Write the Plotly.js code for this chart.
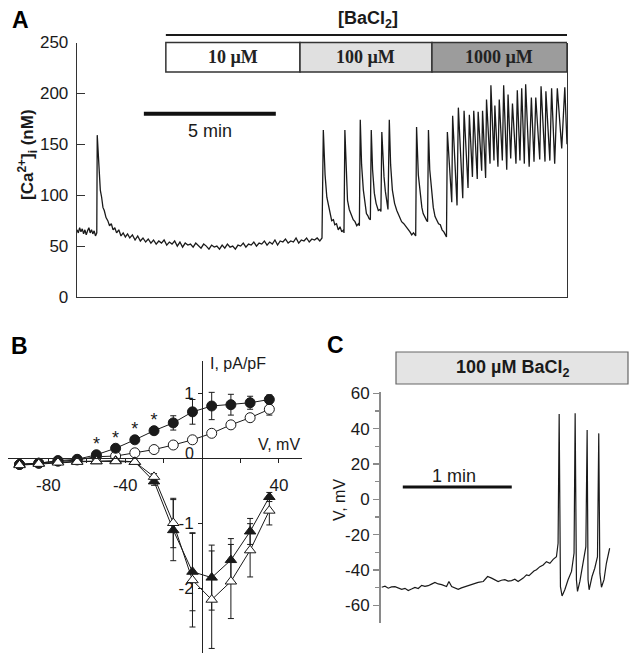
<!DOCTYPE html>
<html>
<head>
<meta charset="utf-8">
<script src="https://cdn.plot.ly/plotly-3.0.1.min.js"></script>
<style>body{margin:0;padding:0;background:#fff}#chart{width:636px;height:658px}</style>
</head>
<body>
<div id="chart"></div>
<script>
// ---------- Panel A: [Ca2+]i trace (time in s, value in nM) ----------
const aTime = [0,3,6,9,12,15,18,21,24,27,30,33,36,39,42,45,
  46,48,50,53,56,59,62,66,70,74,78,82,86,90,95,100,105,110,115,120,126,132,138,144,150,156,162,
  168,174,180,186,192,198,204,210,216,222,228,234,240,246,252,258,264,270,276,282,288,294,300,306,312,318,324,330,336,342,348,354,360,366,372,378,384,390,396,
  402,408,414,420,426,432,438,444,450,456,462,468,474,480,486,492,498,504,510,516,522,528,534,540,546,552,557,
  560,564,568,572,575,579,583,586,590,594,598,602,606,607,
  609,612,615,619,624,628,632,636,640,642,
  644,647,651,654,658,661,664,667,
  669,672,676,680,685,689,691,
  693,696,698,701,704,707,
  710,713,717,722,727,732,738,743,749,753,757,761,765,770,
  772,776,780,784,787,791,795,797,
  799,802,806,810,814,818,822,826,830,834,836,840,
  842,852,854,864,867,877,880,889,892,899,902,910,912,920,922,929,931,939,941,948,950,957,960,967,970,977,980,986,990,998,
  1001,1007,1011,1017,1020,1028,1033,1039,1043,1052,1055,1064,1066,1075,1079,1086,1092,1102,1109,1114];
const aCa = [66,63,68,64,67,62,66,61,65,68,63,66,62,65,60,63,
  159,140,121,105,98,88,85,78,75,70,72,66,68,63,66,60,63,59,62,58,61,56,60,55,58,54,57,
  53,56,52,55,53,56,51,54,52,55,50,54,49,53,51,52,49,53,50,48,52,50,47,51,49,50,47,51,48,52,49,50,47,51,50,53,49,52,51,
  54,50,53,52,55,51,54,52,56,51,55,54,57,53,55,54,58,53,56,55,58,54,57,56,58,55,58,
  164,120,98,90,85,75,76,71,72,66,69,64,66,63,
  164,118,95,86,80,76,74,70,72,70,
  174,130,105,92,82,80,77,76,
  164,125,102,92,85,86,84,
  162,130,118,104,95,86,
  174,130,105,92,85,80,74,72,69,66,64,61,63,60,
  167,120,102,88,82,78,75,74,
  164,125,102,88,79,76,72,71,66,64,62,59,
  162,93,178,90,186,97,183,107,179,118,183,116,182,124,183,117,194,131,208,134,188,128,194,134,208,125,199,136,190,131,
  203,134,205,131,209,128,196,133,196,135,207,133,202,134,205,131,205,146,206,150];
const aTickVals = [0,50,100,150,200,250];
const aBars = [
  {label:'10 \u00b5M',   start:202, end:507,  fill:'#ffffff'},
  {label:'100 \u00b5M',  start:507, end:807,  fill:'#e0e0e0'},
  {label:'1000 \u00b5M', start:807, end:1114, fill:'#9c9c9c'}
];
const aScaleBar = {start:152, end:452, level:180, label:'5 min'};

// ---------- Panel B: I-V relationship ----------
const bV = [-95,-85,-75,-65,-55,-45,-35,-25,-15,-5,5,15,25,35];
const bFilledCircle    = [-0.1,-0.08,-0.04,-0.02,0.05,0.15,0.28,0.42,0.54,0.71,0.80,0.82,0.85,0.90];
const bFilledCircleErr = [null,null,null,null,null,null,null,null,0.11,0.19,0.21,0.16,0.10,0.07];
const bOpenCircle      = [-0.1,-0.08,-0.05,-0.03,0.02,0.03,0.08,0.13,0.20,0.28,0.38,0.51,0.62,0.75];
const bOpenCircleErr   = [null,null,null,null,null,null,null,null,null,null,null,null,0.04,0.09];
const bFilledTri       = [-0.1,-0.08,-0.06,-0.05,-0.05,-0.04,-0.06,-0.36,-1.11,-1.75,-1.84,-1.57,-1.13,-0.60];
const bFilledTriErr    = [null,null,null,null,null,null,null,0.06,0.47,0.60,0.50,0.33,0.20,0.07];
const bOpenTri         = [-0.11,-0.09,-0.07,-0.06,-0.05,-0.05,-0.06,-0.29,-1.00,-1.88,-2.18,-1.90,-1.42,-0.81];
const bOpenTriErr      = [null,null,null,null,null,null,null,0.05,0.38,0.72,0.75,0.57,0.41,0.22];
const bStarV = [-55,-45,-35,-25];
const bXTickVals = [-80,-40,40];
const bXTickText = ['-80','-40','40'];
const bXMinorTicks = [-60,-20,20];
const bYTickVals = [-2,-1,1];
const bYTickText = ['-2','-1','1'];

// ---------- Panel C: membrane potential (time in s, V in mV) ----------
const cTime = [0.4,2.2,4.0,5.8,7.7,9.5,11.4,13.2,15.0,16.8,18.7,20.5,22.4,24.2,26.0,27.8,29.7,31.5,33.4,36.1,37.4,38.9,40.7,42.5,44.3,46.2,48.0,49.9,51.7,53.5,56.3,58.7,60.9,
  62.7,64.5,66.3,68.2,70.0,71.9,73.7,75.5,78.3,80.1,81.5,82.9,84.2,85.6,87.5,89.3,91.1,93.0,94.8,96.6,97.5,98.1,98.8,99.7,101.2,103.0,
  104.9,106.3,106.9,107.6,108.2,109.5,111.3,112.8,113.5,114.0,114.6,116.2,117.7,119.2,119.9,120.5,121.4,122.8,124.1,125.9];
const cV = [-49.8,-49.2,-50.3,-49.6,-49.4,-50.2,-50.9,-50.4,-51.6,-50.8,-49.9,-50.5,-48.7,-49.3,-48.9,-48.0,-47.0,-47.9,-48.3,-49.4,-46.5,-49.4,-50.0,-50.9,-50.1,-49.4,-49.0,-48.3,-47.6,-47.0,-46.5,-43.7,-44.6,
  -45.4,-46.5,-45.8,-45.5,-46.3,-46.0,-45.2,-46.5,-44.6,-42.8,-43.2,-41.8,-40.6,-39.9,-38.1,-37.2,-35.3,-36.2,-34.0,-32.5,-24.9,48.3,-49.4,-54.7,-51.2,-45.5,
  -40.8,-30.4,48.7,-45.5,-52.1,-46.5,-36.2,-26.8,39.2,-45.5,-51.2,-43.7,-39.0,-32.5,37.3,-41.8,-49.8,-45.5,-36.2,-27.7];
const cTickVals = [-60,-40,-20,0,20,40,60];
const cTickText = ['-60','-40','-20','0','20','40','60'];
const cMinorTicks = [-50,-30,-10,10,30,50];
const cScaleBar = {start:12, end:72, level:7, label:'1 min'};

// ---------- Build ----------
const W = 636, H = 658;
const px = v => v / W;           // pixel -> paper x
const py = v => 1 - v / H;       // pixel -> paper y
const SANS = 'Arial, "Liberation Sans", sans-serif';
const SERIF = '"Times New Roman", "Liberation Serif", serif';
const INK = '#1a1a1a';

const traces = [
  {x:aTime, y:aCa, xaxis:'x', yaxis:'y', mode:'lines', line:{color:INK, width:1.3}, hoverinfo:'skip'},

  {x:bV, y:bOpenCircle, xaxis:'x2', yaxis:'y2', mode:'lines+markers',
   line:{color:INK, width:1}, marker:{symbol:'circle', size:10, color:'#fff', line:{color:INK, width:1}},
   error_y:{type:'data', array:bOpenCircleErr, color:INK, thickness:1, width:3}},
  {x:bV, y:bFilledCircle, xaxis:'x2', yaxis:'y2', mode:'lines+markers',
   line:{color:INK, width:1}, marker:{symbol:'circle', size:10, color:INK, line:{color:INK, width:1}},
   error_y:{type:'data', array:bFilledCircleErr, color:INK, thickness:1, width:3}},
  {x:bV, y:bFilledTri, xaxis:'x2', yaxis:'y2', mode:'lines+markers',
   line:{color:INK, width:1}, marker:{symbol:'triangle-up', size:10, color:INK, line:{color:INK, width:1}},
   error_y:{type:'data', array:bFilledTriErr, color:INK, thickness:1, width:3}},
  {x:bV, y:bOpenTri, xaxis:'x2', yaxis:'y2', mode:'lines+markers',
   line:{color:INK, width:1}, marker:{symbol:'triangle-up', size:10, color:'#fff', line:{color:INK, width:1}},
   error_y:{type:'data', array:bOpenTriErr, color:INK, thickness:1, width:3}},
  {x:bStarV, y:bStarV.map(v => bFilledCircle[bV.indexOf(v)]), xaxis:'x2', yaxis:'y2', mode:'text',
   text:bStarV.map(() => '*'), textposition:'top center', textfont:{family:SANS, size:18, color:INK}, hoverinfo:'skip'},

  {x:cTime, y:cV, xaxis:'x3', yaxis:'y3', mode:'lines', line:{color:INK, width:1.2}, hoverinfo:'skip'}
];

const shapes = [];
const annotations = [];

// Panel A bars
aBars.forEach(b => {
  shapes.push({type:'rect', xref:'x', yref:'paper', x0:b.start, x1:b.end, y0:py(72), y1:py(42.5),
    fillcolor:b.fill, line:{color:'#333', width:1.5}, layer:'above'});
  annotations.push({xref:'x', yref:'paper', x:(b.start+b.end)/2, y:py(57.5), text:'<b>'+b.label+'</b>',
    showarrow:false, xanchor:'center', yanchor:'middle', font:{family:SERIF, size:18, color:'#222'}});
});
shapes.push({type:'line', xref:'x', yref:'paper', x0:aBars[0].start, x1:aBars[aBars.length-1].end,
  y0:py(35), y1:py(35), line:{color:INK, width:2}});
annotations.push({xref:'x', yref:'paper', x:(aBars[0].start+aBars[aBars.length-1].end)/2 + 4, y:py(20),
  text:'<b>[BaCl<sub>2</sub>]</b>', showarrow:false, xanchor:'center', yanchor:'middle',
  font:{family:SANS, size:18, color:INK}});
// Panel A scale bar
shapes.push({type:'line', xref:'x', yref:'y', x0:aScaleBar.start, x1:aScaleBar.end, y0:aScaleBar.level, y1:aScaleBar.level,
  line:{color:'#111', width:4}});
annotations.push({xref:'x', yref:'y', x:(aScaleBar.start+aScaleBar.end)/2, y:aScaleBar.level, yshift:-17,
  text:aScaleBar.label, showarrow:false, xanchor:'center', yanchor:'middle', font:{family:SANS, size:18, color:INK}});
// Panel A y title
annotations.push({xref:'paper', yref:'paper', x:px(27), y:py(155), text:'<b>[Ca<sup>2+</sup>]<sub>i</sub> (nM)</b>',
  textangle:-90, showarrow:false, xanchor:'center', yanchor:'middle', font:{family:SANS, size:17, color:INK}});

// Panel B labels
annotations.push({xref:'x2', yref:'y2', x:3, y:1.45, text:'I, pA/pF', showarrow:false, xanchor:'left', yanchor:'middle',
  font:{family:SANS, size:16, color:INK}});
annotations.push({xref:'x2', yref:'y2', x:40, y:0.215, text:'V, mV', showarrow:false, xanchor:'center', yanchor:'middle',
  font:{family:SANS, size:16, color:INK}});
annotations.push({xref:'x2', yref:'y2', x:-6.8, y:0.077, text:'0', showarrow:false, xanchor:'center', yanchor:'middle',
  font:{family:SANS, size:16, color:INK}});

// Panel C box + scale bar + title
shapes.push({type:'rect', xref:'paper', yref:'paper', x0:px(396), x1:px(628), y0:py(384), y1:py(352),
  fillcolor:'#e4e4e4', line:{color:'#666', width:1.2}});
annotations.push({xref:'paper', yref:'paper', x:px(512), y:py(368), text:'<b>100 \u00b5M BaCl<sub>2</sub></b>',
  showarrow:false, xanchor:'center', yanchor:'middle', font:{family:SANS, size:18, color:INK}});
shapes.push({type:'line', xref:'x3', yref:'y3', x0:cScaleBar.start, x1:cScaleBar.end, y0:cScaleBar.level, y1:cScaleBar.level,
  line:{color:'#111', width:3}});
annotations.push({xref:'x3', yref:'y3', x:(cScaleBar.start+cScaleBar.end)/2 - 2, y:cScaleBar.level, yshift:11,
  text:cScaleBar.label, showarrow:false, xanchor:'center', yanchor:'middle', font:{family:SANS, size:18, color:INK}});
annotations.push({xref:'paper', yref:'paper', x:px(339), y:py(500), text:'V, mV', textangle:-90,
  showarrow:false, xanchor:'center', yanchor:'middle', font:{family:SANS, size:16, color:INK}});

// Panel letters
[['A',20,20],['B',19.5,346],['C',335,345]].forEach(([t,x,y]) => {
  annotations.push({xref:'paper', yref:'paper', x:px(x), y:py(y), text:'<b>'+t+'</b>', showarrow:false,
    xanchor:'center', yanchor:'middle', font:{family:SANS, size:23, color:'#000'}});
});

const layout = {
  width:W, height:H, margin:{l:0, r:0, t:0, b:0}, showlegend:false,
  paper_bgcolor:'#fff', plot_bgcolor:'rgba(0,0,0,0)',
  font:{family:SANS, size:16, color:INK},
  // Panel A
  xaxis:{domain:[px(77), px(567)], range:[0,1114], showline:true, linecolor:'#333', linewidth:1.3,
    ticks:'', showticklabels:false, showgrid:false, zeroline:false, fixedrange:true},
  yaxis:{domain:[py(297), py(42.5)], range:[0,250], anchor:'x', showline:true, mirror:true, linecolor:'#333', linewidth:1.3,
    ticks:'inside', ticklen:8, tickcolor:'#333', tickvals:aTickVals, ticklabelstandoff:4,
    tickfont:{family:SANS, size:17, color:INK}, showgrid:false, zeroline:false, fixedrange:true},
  // Panel B
  xaxis2:{domain:[px(8), px(302)], range:[-101,52], anchor:'free', position:py(458),
    showline:true, linecolor:'#222', linewidth:1, ticks:'outside', ticklen:4, tickcolor:'#222',
    tickvals:bXTickVals, ticktext:bXTickText, ticklabelstandoff:8,
    minor:{tickvals:bXMinorTicks, ticks:'outside', ticklen:4, tickcolor:'#222'},
    tickfont:{family:SANS, size:17, color:INK}, showgrid:false, zeroline:false, fixedrange:true},
  yaxis2:{domain:[py(653), py(360.5)], range:[-3,1.5], anchor:'free', position:px(202),
    showline:true, linecolor:'#222', linewidth:1, ticks:'outside', ticklen:4, tickcolor:'#222',
    tickvals:bYTickVals, ticktext:bYTickText, ticklabelstandoff:1,
    tickfont:{family:SANS, size:17, color:INK}, showgrid:false, zeroline:false, fixedrange:true},
  // Panel C
  xaxis3:{domain:[px(381), px(628)], range:[0,136], anchor:'y3', visible:false, fixedrange:true},
  yaxis3:{domain:[py(623), py(391.5)], range:[-70,61], anchor:'x3', showline:true, linecolor:'#8a8a8a', linewidth:2,
    ticks:'outside', ticklen:6, tickcolor:'#8a8a8a', tickwidth:1.5, tickvals:cTickVals, ticktext:cTickText,
    minor:{tickvals:cMinorTicks, ticks:'outside', ticklen:4, tickcolor:'#8a8a8a', tickwidth:1.2},
    tickfont:{family:SANS, size:17, color:INK}, showgrid:false, zeroline:false, fixedrange:true},
  shapes:shapes,
  annotations:annotations
};

Plotly.newPlot('chart', traces, layout, {staticPlot:true, displayModeBar:false});
</script>
</body>
</html>
